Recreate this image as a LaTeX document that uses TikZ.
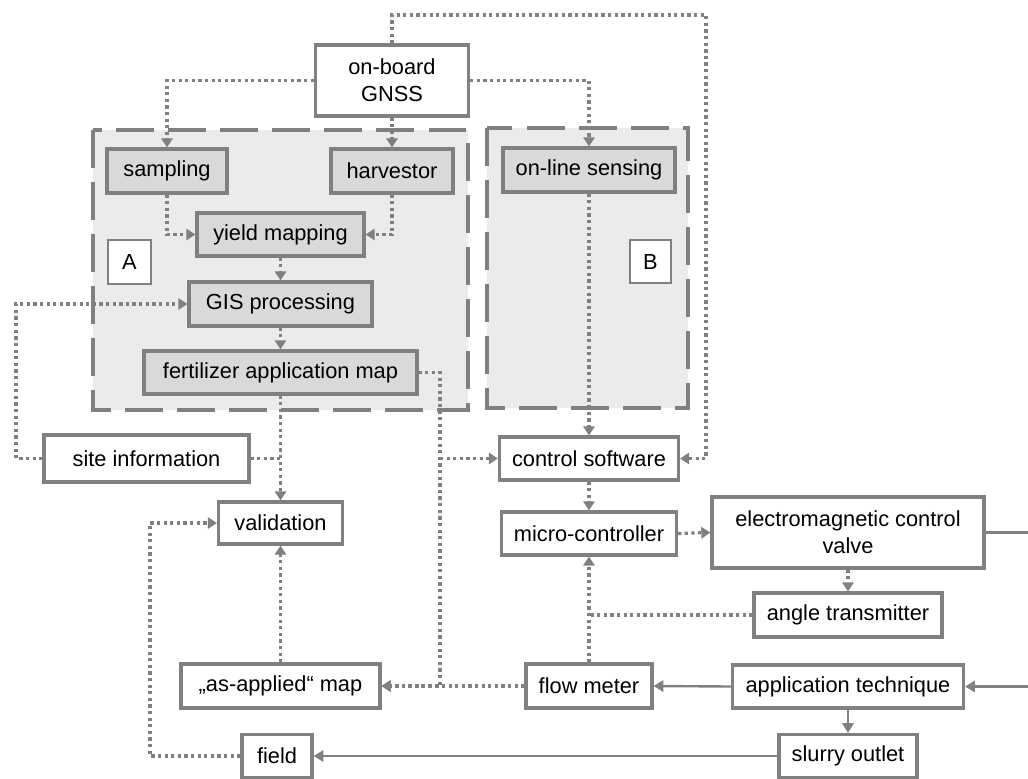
\documentclass[tikz,border=0pt]{standalone}
\usepackage{fontspec}
\setmainfont{Liberation Sans}
\usetikzlibrary{arrows.meta}
\definecolor{lc}{gray}{0.5}
\tikzset{
  box/.style={draw=lc, line width=2.2pt, fill=white, inner sep=0pt, align=center, font=\fontsize{15.5}{19}\selectfont},
  gbox/.style={box, fill=black!15},
  lbl/.style={draw=lc, line width=1pt, fill=white, inner sep=0pt, font=\fontsize{15.5}{19}\selectfont},
  region/.style={draw=lc, line width=2.8pt, dash pattern=on 27pt off 10pt, fill=black!8},
  dotl/.style={draw=lc, line width=2.3pt, dash pattern=on 2.3pt off 2.4pt},
  dota/.style={dotl, -{Triangle[length=6.5pt,width=8pt]}},
  sola/.style={draw=lc, line width=1.7pt, -{Triangle[length=7pt,width=8pt]}},
  soll/.style={draw=lc, line width=1.7pt},
}
\begin{document}
\begin{tikzpicture}[x=0.025cm, y=-0.025cm]
\useasboundingbox (0,0) rectangle (1028,778);
% regions
\path[region] (93,130) rectangle (468,410);
\path[region] (487,128) rectangle (688,408);
% nodes
\node[box, minimum width=3.825cm, minimum height=1.775cm] (gnss) at (392,80.5) {on-board\\GNSS};
\node[gbox, minimum width=3.0cm, minimum height=1.1cm] (sampling) at (167,171) {sampling};
\node[gbox, minimum width=3.05cm, minimum height=1.1cm] (harv) at (392,171) {harvestor};
\node[gbox, minimum width=4.175cm, minimum height=1.075cm] (yield) at (280.5,234.5) {yield mapping};
\node[lbl, minimum width=1.075cm, minimum height=1.1cm] (la) at (129.5,262) {A};
\node[lbl, minimum width=1.025cm, minimum height=1.075cm] (lb) at (650.5,261.5) {B};
\node[gbox, minimum width=4.575cm, minimum height=1.1cm] (gis) at (280.5,304) {GIS processing};
\node[gbox, minimum width=6.825cm, minimum height=1.075cm] (fert) at (280.5,372.5) {fertilizer application map};
\node[box, minimum width=5.125cm, minimum height=1.175cm] (site) at (146.5,458.5) {site information};
\node[box, minimum width=3.1cm, minimum height=1.05cm] (valid) at (280.5,523) {validation};
\node[box, minimum width=4.975cm, minimum height=1.1cm] (asap) at (280.5,686) {„as-applied“ map};
\node[box, minimum width=1.75cm, minimum height=1.075cm] (field) at (277,756) {field};
\node[gbox, minimum width=4.3cm, minimum height=1.1cm] (online) at (589,170) {on-line sensing};
\node[box, minimum width=4.475cm, minimum height=1.075cm] (control) at (589,458.5) {control software};
\node[box, minimum width=4.375cm, minimum height=1.075cm] (micro) at (589,533.5) {micro-controller};
\node[box, minimum width=6.8cm, minimum height=1.775cm] (valve) at (848,532.5) {electromagnetic control\\valve};
\node[box, minimum width=4.7cm, minimum height=1.1cm] (angle) at (848,615) {angle transmitter};
\node[box, minimum width=3.15cm, minimum height=1.1cm] (flow) at (589,686) {flow meter};
\node[box, minimum width=5.775cm, minimum height=1.075cm] (app) at (848,686.5) {application technique};
\node[box, minimum width=3.45cm, minimum height=1.075cm] (slurry) at (848,756) {slurry outlet};
% helper coordinates
\coordinate (topR) at (706,15);
\coordinate (sL) at (16,458.5);
\coordinate (fR) at (440,372.5);
\coordinate (fL) at (150,756);
\coordinate (vR) at (1031,532.5);
% dotted connectors
\draw[dota] (gnss.north) |- (topR) |- (control.east);
\draw[dota] (gnss.west) -| (sampling.north);
\draw[dota] (gnss.east) -| (online.north);
\draw[dota] (gnss.south) -- (harv.north);
\draw[dota] (sampling.south) |- (yield.west);
\draw[dota] (harv.south) |- (yield.east);
\draw[dota] (yield.south) -- (gis.north);
\draw[dota] (gis.south) -- (fert.north);
\draw[dota] (site.west) -- (sL) |- (gis.west);
\draw[dotl] (site.east) -- (site.east -| fert.south);
\draw[dota] (fert.south) -- (valid.north);
\draw[dota] (fert.east) -- (fR) |- (asap.east);
\draw[dota] (fR |- control.west) -- (control.west);
\draw[dota] (flow.west) -- (asap.east);
\draw[dota] (asap.north) -- (valid.south);
\draw[dota] (field.west) -- (fL) |- (valid.west);
\draw[dota] (online.south) -- (control.north);
\draw[dota] (control.south) -- (micro.north);
\draw[dota] (micro.east) -- (valve.west);
\draw[dota] (valve.south) -- (angle.north);
\draw[dotl] (angle.west) -- (angle.west -| flow.north);
\draw[dota] (flow.north) -- (micro.south);
% solid connectors
\draw[sola] (slurry.west) -- (field.east);
\draw[sola] (app.west) -- (flow.east);
\draw[sola] (app.south) -- (slurry.north);
\draw[sola] (valve.east) -- (vR) |- (app.east);
\end{tikzpicture}
\end{document}
